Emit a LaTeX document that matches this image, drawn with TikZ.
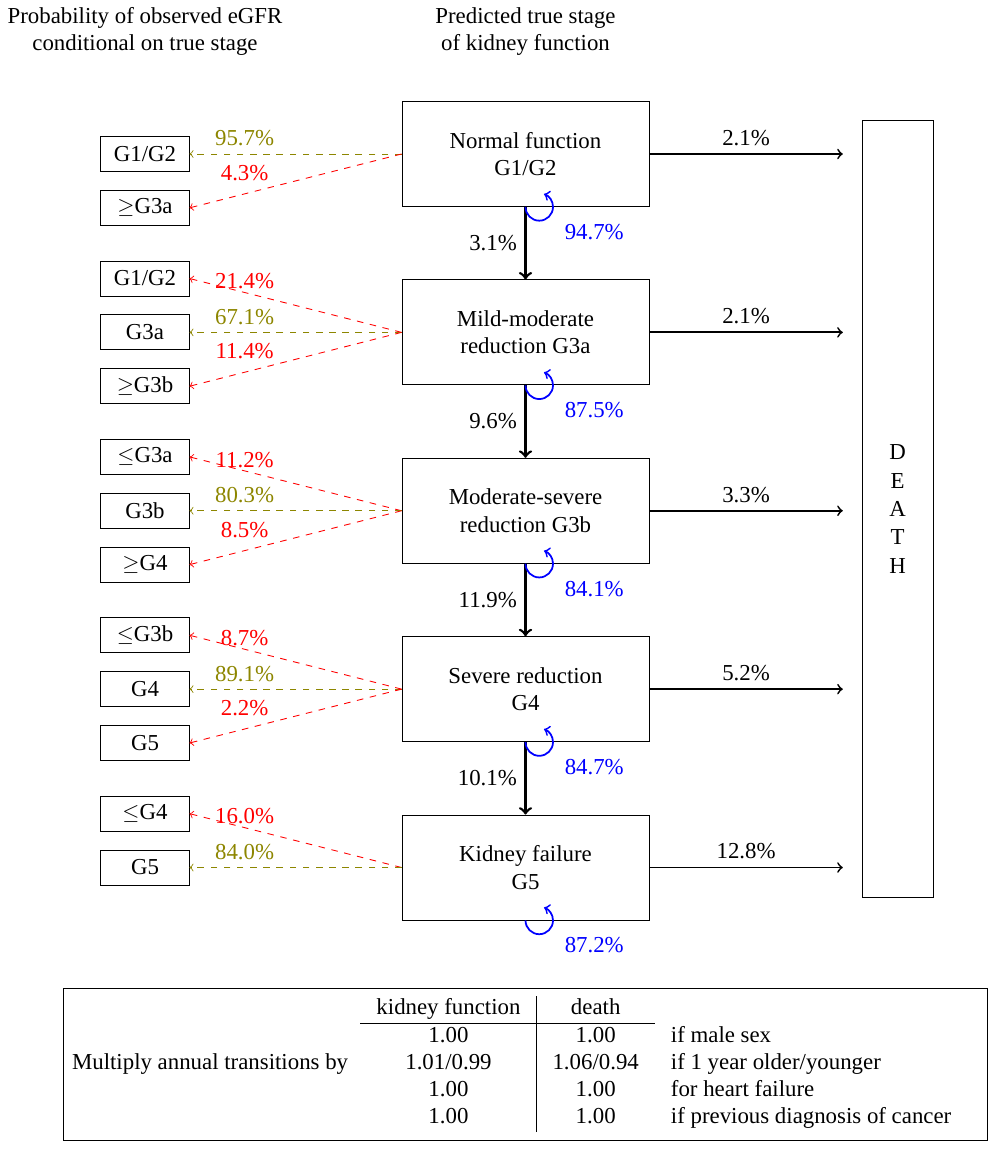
\documentclass[tikz,border=0pt]{standalone}
\usepackage{amsmath}
\usepackage{fontspec}
\setmainfont{Liberation Serif}
\usetikzlibrary{calc}
\usetikzlibrary{positioning}

\begin{document}
\begin{tikzpicture}[
  font=\fontsize{10.4}{12.4}\selectfont,
  stage/.style = {draw, align=center, minimum width=3.95cm, minimum height=1.68cm},
  obs/.style = {draw, minimum width=1.41cm, minimum height=.56cm, inner sep=0},
  down/.style = {->, very thick},
  todeath/.style = {->, thick},
  stay/.style = {->, thick, blue},
  misclass/.style = {->, dashed, red},
  correct/.style = {->, dashed, olive},
  uplab/.style = {pos=.74, above=-2pt},
  lowlab/.style = {pos=.74, above=2.5pt},
  midlab/.style = {pos=.74, above},
]

\useasboundingbox (-8.408,-15.936) rectangle (7.592,2.464);


\node[align=center] (title obs) at (-6.088,1.96) {Probability of observed eGFR\\conditional on true stage};
\node[align=center] (title stage) at (0,1.96) {Predicted true stage\\of kidney function};


% true stages
\node[stage] (s1) at (0,0) {Normal function\\G1/G2};
\node[stage, below=1.16cm of s1] (s2) {Mild-moderate\\reduction G3a};
\node[stage, below=1.16cm of s2] (s3) {Moderate-severe\\reduction G3b};
\node[stage, below=1.16cm of s3] (s4) {Severe reduction\\G4};
\node[stage, below=1.16cm of s4] (s5) {Kidney failure\\G5};

\draw[down] (s1) -- (s2) node[midway, left] {3.1\%};
\draw[down] (s2) -- (s3) node[midway, left] {9.6\%};
\draw[down] (s3) -- (s4) node[midway, left] {11.9\%};
\draw[down] (s4) -- (s5) node[midway, left] {10.1\%};

\draw[stay] (s1.south) arc[start angle=180, end angle=430, radius=.22];
\draw[stay] (s2.south) arc[start angle=180, end angle=430, radius=.22];
\draw[stay] (s3.south) arc[start angle=180, end angle=430, radius=.22];
\draw[stay] (s4.south) arc[start angle=180, end angle=430, radius=.22];
\draw[stay] (s5.south) arc[start angle=180, end angle=430, radius=.22];
\node[blue] (p1) at ($(s1.south)+(1.1,-.4)$) {94.7\%};
\node[blue] (p2) at ($(s2.south)+(1.1,-.4)$) {87.5\%};
\node[blue] (p3) at ($(s3.south)+(1.1,-.4)$) {84.1\%};
\node[blue] (p4) at ($(s4.south)+(1.1,-.4)$) {84.7\%};
\node[blue] (p5) at ($(s5.south)+(1.1,-.4)$) {87.2\%};


% death
\node[draw, align=center, font=\fontsize{10.4}{12.9}\selectfont, minimum width=1.136cm, minimum height=12.42cm] (death) at (5.952,-5.68) {D\\E\\A\\T\\H};

\coordinate (d1) at ($(s1 -| death.west)+(-.3,0)$);
\coordinate (d2) at ($(s2 -| death.west)+(-.3,0)$);
\coordinate (d3) at ($(s3 -| death.west)+(-.3,0)$);
\coordinate (d4) at ($(s4 -| death.west)+(-.3,0)$);
\coordinate (d5) at ($(s5 -| death.west)+(-.3,0)$);
\draw[todeath] (s1.east) -- (d1) node[midway, above] {2.1\%};
\draw[todeath] (s2.east) -- (d2) node[midway, above] {2.1\%};
\draw[todeath] (s3.east) -- (d3) node[midway, above] {3.3\%};
\draw[todeath] (s4.east) -- (d4) node[midway, above] {5.2\%};
\draw[todeath] (s5.east) -- (d5) node[midway, above] {12.8\%};


% observed eGFR
\coordinate (obs col) at (-6.088,0);

\node[obs] (o11) at (s1 -| obs col) {G1/G2};
\node[obs, below=.288cm of o11] (o12) {$\geq$G3a};
\draw[correct] (s1.west) -- (o11.east) node[midlab] {95.7\%};
\draw[misclass] (s1.west) -- (o12.east) node[lowlab] {4.3\%};

\node[obs] (o22) at (s2 -| obs col) {G3a};
\node[obs, above=.288cm of o22] (o21) {G1/G2};
\node[obs, below=.288cm of o22] (o23) {$\geq$G3b};
\draw[misclass] (s2.west) -- (o21.east) node[uplab] {21.4\%};
\draw[correct] (s2.west) -- (o22.east) node[midlab] {67.1\%};
\draw[misclass] (s2.west) -- (o23.east) node[lowlab] {11.4\%};

\node[obs] (o32) at (s3 -| obs col) {G3b};
\node[obs, above=.288cm of o32] (o31) {$\leq$G3a};
\node[obs, below=.288cm of o32] (o33) {$\geq$G4};
\draw[misclass] (s3.west) -- (o31.east) node[uplab] {11.2\%};
\draw[correct] (s3.west) -- (o32.east) node[midlab] {80.3\%};
\draw[misclass] (s3.west) -- (o33.east) node[lowlab] {8.5\%};

\node[obs] (o42) at (s4 -| obs col) {G4};
\node[obs, above=.288cm of o42] (o41) {$\leq$G3b};
\node[obs, below=.288cm of o42] (o43) {G5};
\draw[misclass] (s4.west) -- (o41.east) node[uplab] {8.7\%};
\draw[correct] (s4.west) -- (o42.east) node[midlab] {89.1\%};
\draw[misclass] (s4.west) -- (o43.east) node[lowlab] {2.2\%};

\node[obs] (o52) at (s5 -| obs col) {G5};
\node[obs, above=.288cm of o52] (o51) {$\leq$G4};
\draw[misclass] (s5.west) -- (o51.east) node[uplab] {16.0\%};
\draw[correct] (s5.west) -- (o52.east) node[midlab] {84.0\%};


% covariate effects
\node[draw, minimum width=14.77cm, minimum height=2.432cm] (legend) at (0,-14.56) {};
\node[anchor=west, inner sep=0] (mult) at ($(legend.west)+(.13,0)$) {Multiply annual transitions by};
\node[anchor=west, inner sep=0] (factors) at (-2.648,-14.56) {%
  \setlength{\tabcolsep}{7.3pt}%
  \begin{tabular}{c|cl}
    kidney function & death & \\ \cline{1-2}
    1.00 & 1.00 & if male sex \\
    1.01/0.99 & 1.06/0.94 & if 1 year older/younger \\
    1.00 & 1.00 & for heart failure \\
    1.00 & 1.00 & if previous diagnosis of cancer
  \end{tabular}};


\end{tikzpicture}
\end{document}
